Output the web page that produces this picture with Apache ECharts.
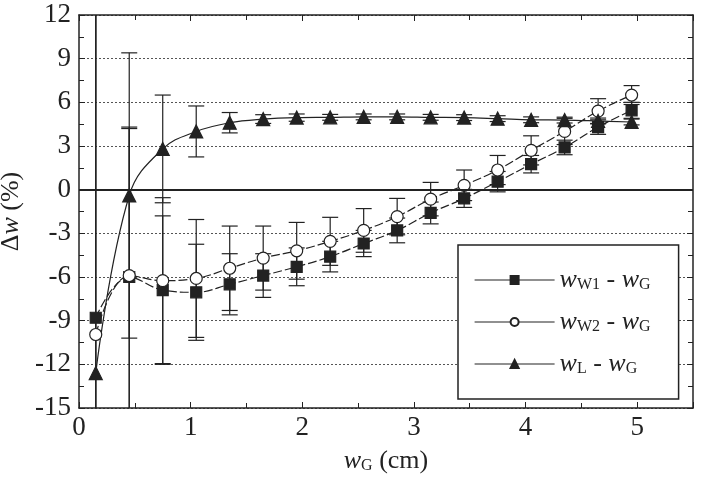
<!DOCTYPE html>
<html>
<head>
<meta charset="utf-8">
<script src="https://cdn.jsdelivr.net/npm/echarts@6/dist/echarts.min.js"></script>
<style>
    html, body { margin: 0; padding: 0; background: #fff; }
    #main { width: 701px; height: 483px; }
</style>
</head>
<body>
<div id="main"></div>
<script>
var xs = [0.15, 0.45, 0.75, 1.05, 1.35, 1.65, 1.95, 2.25, 2.55, 2.85, 3.15, 3.45, 3.75, 4.05, 4.35, 4.65, 4.95];

// w_W1 - w_G
var w1 = [-8.8, -6.0, -6.9, -7.05, -6.5, -5.9, -5.3, -4.6, -3.7, -2.8, -1.6, -0.6, 0.55, 1.75, 2.9, 4.3, 5.45];
var w1Err = [24, 10.3, 5.1, 3.3, 2.1, 1.5, 1.3, 1.05, 0.9, 0.85, 0.75, 0.62, 0.7, 0.6, 0.5, 0.5, 0.55];
// w_W2 - w_G
var w2 = [-9.95, -5.9, -6.25, -6.1, -5.4, -4.7, -4.2, -3.55, -2.8, -1.85, -0.65, 0.3, 1.35, 2.7, 4.0, 5.4, 6.5];
var w2Err = [24, 10.1, 5.7, 4.05, 2.9, 2.2, 1.95, 1.65, 1.5, 1.25, 1.15, 1.05, 1.0, 1.0, 0.9, 0.85, 0.65];
// w_L - w_G
var wl = [-12.6, -0.4, 2.8, 4.0, 4.6, 4.85, 4.95, 4.97, 5.0, 5.0, 4.97, 4.95, 4.88, 4.8, 4.78, 4.72, 4.65];
var wlErr = [25, 9.8, 3.7, 1.75, 0.7, 0.3, 0.25, 0.2, 0.2, 0.2, 0.2, 0.2, 0.2, 0.2, 0.2, 0.2, 0.2];

var yTicks = [-15, -12, -9, -6, -3, 0, 3, 6, 9, 12];
var xTicks = [0, 1, 2, 3, 4, 5];

var legendText = {
    W1: '{i|w}{s|W1}{n| - }{i|w}{s|G}',
    W2: '{i|w}{s|W2}{n| - }{i|w}{s|G}',
    L: '{i|w}{s|L}{n| - }{i|w}{s|G}'
};

var font = 'Liberation Serif';
var ink = '#222';

var richText = {
    i: { fontFamily: font, fontStyle: 'italic', fontSize: 26, color: ink },
    s: { fontFamily: font, fontSize: 16, color: ink, verticalAlign: 'bottom', padding: [10, 0, 0, 0] },
    n: { fontFamily: font, fontSize: 26, color: ink },
    g: { fontFamily: font, fontSize: 26, color: ink }
};

function pairs(vals) {
    var out = [];
    for (var i = 0; i < xs.length; i++) {
        out.push([xs[i], vals[i]]);
    }
    return out;
}

function errSeries(name, vals, errs) {
    var d = [];
    for (var i = 0; i < xs.length; i++) {
        d.push([xs[i], vals[i] - errs[i], vals[i] + errs[i]]);
    }
    return {
        name: name,
        type: 'custom',
        clip: true,
        silent: true,
        z: 1,
        encode: { x: 0, y: [1, 2] },
        data: d,
        renderItem: function (params, api) {
            var x = api.value(0);
            var lo = api.coord([x, api.value(1)]);
            var hi = api.coord([x, api.value(2)]);
            var w = 8;
            var st = { stroke: ink, lineWidth: 1.2 };
            return {
                type: 'group',
                children: [
                    { type: 'line', shape: { x1: hi[0], y1: hi[1], x2: lo[0], y2: lo[1] }, style: st },
                    { type: 'line', shape: { x1: hi[0] - w, y1: hi[1], x2: hi[0] + w, y2: hi[1] }, style: st },
                    { type: 'line', shape: { x1: lo[0] - w, y1: lo[1], x2: lo[0] + w, y2: lo[1] }, style: st }
                ]
            };
        }
    };
}

function lineSeries(name, vals, symbol, size, fill, dash) {
    return {
        name: name,
        type: 'line',
        smooth: 0.4,
        z: 3,
        symbol: symbol,
        symbolSize: size,
        showAllSymbol: true,
        lineStyle: { color: ink, width: 1.2, type: dash },
        itemStyle: { color: fill, borderColor: ink, borderWidth: 1.2 },
        data: pairs(vals)
    };
}

var axisLine = { show: true, onZero: false, lineStyle: { color: ink, width: 1.5 } };

var option = {
    animation: false,
    backgroundColor: '#fff',
    grid: { left: 79, right: 8, top: 15, bottom: 75, containLabel: false, outerBoundsMode: 'none' },
    legend: {
        orient: 'vertical',
        left: 458,
        top: 245,
        padding: [22, 28, 22, 16],
        itemGap: 16,
        itemWidth: 80,
        itemHeight: 10,
        borderColor: ink,
        borderWidth: 1.5,
        backgroundColor: '#fff',
        data: ['W1', 'W2', 'L'],
        lineStyle: { type: 'solid', width: 1.2 },
        formatter: function (name) { return legendText[name]; },
        textStyle: { lineHeight: 26, rich: richText }
    },
    xAxis: [{
        type: 'value',
        min: 0,
        max: 5.5,
        interval: 1,
        name: '{i|w}{s|G}{g| (cm)}',
        nameLocation: 'middle',
        nameGap: 40,
        nameTextStyle: { rich: richText },
        axisLine: axisLine,
        axisTick: { inside: true, length: 6, lineStyle: { color: ink } },
        minorTick: { show: true, splitNumber: 2, length: 5, lineStyle: { color: ink } },
        axisLabel: {
            margin: 6,
            fontFamily: font,
            fontSize: 27,
            color: ink,
            formatter: function (v) { return xTicks.indexOf(v) >= 0 ? String(v) : ''; }
        },
        splitLine: { show: false }
    }, {
        type: 'value',
        position: 'top',
        min: 0,
        max: 5.5,
        interval: 1,
        axisLine: axisLine,
        axisTick: { inside: true, length: 6, lineStyle: { color: ink } },
        minorTick: { show: true, splitNumber: 2, length: 5, lineStyle: { color: ink } },
        axisLabel: { show: false },
        splitLine: { show: false }
    }],
    yAxis: [{
        type: 'value',
        min: -15,
        max: 12,
        interval: 3,
        name: '{g|Δ}{i|w}{g| (%)}',
        nameLocation: 'middle',
        nameGap: 47,
        nameTextStyle: { rich: richText },
        axisLine: axisLine,
        axisTick: { inside: true, length: 6, lineStyle: { color: ink } },
        minorTick: { show: true, splitNumber: 2, length: 5, lineStyle: { color: ink } },
        axisLabel: {
            margin: 8,
            fontFamily: font,
            fontSize: 27,
            color: ink,
            formatter: function (v) { return yTicks.indexOf(v) >= 0 ? String(v) : ''; }
        },
        splitLine: { show: true, lineStyle: { color: '#555', width: 1, type: [2, 2] } }
    }, {
        type: 'value',
        position: 'right',
        min: -15,
        max: 12,
        interval: 3,
        axisLine: axisLine,
        axisTick: { inside: true, length: 6, lineStyle: { color: ink } },
        minorTick: { show: true, splitNumber: 2, length: 5, lineStyle: { color: ink } },
        axisLabel: { show: false },
        splitLine: { show: false }
    }],
    series: [
        errSeries('W1 err', w1, w1Err),
        errSeries('W2 err', w2, w2Err),
        errSeries('L err', wl, wlErr),
        lineSeries('W1', w1, 'rect', 11, ink, [9, 3]),
        lineSeries('W2', w2, 'circle', 12, '#fff', [9, 3]),
        lineSeries('L', wl, 'triangle', 13, ink, 'solid'),
        {
            // zero line
            type: 'line',
            silent: true,
            data: [],
            markLine: {
                silent: true,
                symbol: 'none',
                label: { show: false },
                lineStyle: { color: ink, width: 2, type: 'solid' },
                data: [{ yAxis: 0 }]
            }
        }
    ]
};

var myChart = echarts.init(document.getElementById('main'));
myChart.setOption(option);
</script>
</body>
</html>
